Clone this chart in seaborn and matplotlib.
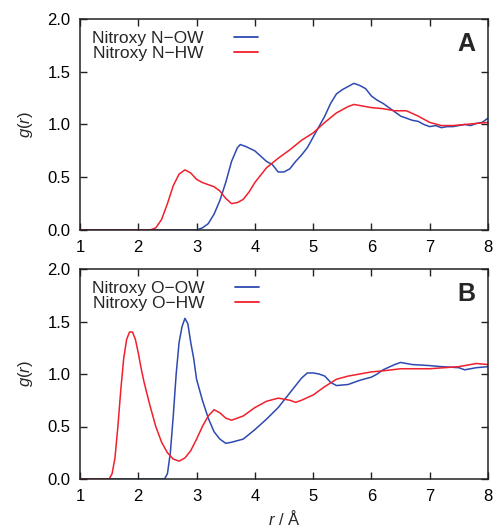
import matplotlib
matplotlib.use("Agg")
import matplotlib.pyplot as plt
import seaborn as sns
import pandas as pd

# ---- Panel A data ----
a_now_r = [1.0, 2.9, 3.0, 3.1, 3.2, 3.3, 3.4, 3.5, 3.6, 3.7, 3.75, 3.85, 4.0, 4.1, 4.2, 4.3, 4.4, 4.5,
           4.6, 4.7, 4.8, 4.9, 5.0, 5.1, 5.2, 5.3, 5.4, 5.5, 5.6, 5.7, 5.8, 5.9, 6.0, 6.1, 6.2, 6.3,
           6.4, 6.5, 6.6, 6.7, 6.8, 6.9, 7.0, 7.1, 7.2, 7.3, 7.4, 7.5, 7.6, 7.7, 7.8, 7.9, 8.0]
a_now_g = [0.0, 0.0, 0.0, 0.02, 0.06, 0.15, 0.28, 0.45, 0.65, 0.78, 0.81, 0.79, 0.75, 0.70, 0.65, 0.62, 0.55, 0.55,
           0.58, 0.65, 0.71, 0.78, 0.88, 0.98, 1.08, 1.20, 1.29, 1.33, 1.36, 1.39, 1.37, 1.34, 1.27, 1.23, 1.20, 1.16,
           1.12, 1.08, 1.06, 1.04, 1.03, 1.00, 0.98, 0.99, 0.97, 0.98, 0.98, 0.99, 1.00, 0.99, 1.01, 1.02, 1.06]

a_nhw_r = [1.0, 2.2, 2.3, 2.4, 2.5, 2.6, 2.7, 2.8, 2.9, 3.0, 3.1, 3.2, 3.3, 3.4, 3.5, 3.6, 3.7, 3.8,
           3.9, 4.0, 4.1, 4.2, 4.4, 4.6, 4.8, 5.0, 5.2, 5.4, 5.6, 5.7, 5.8, 6.0, 6.2, 6.4, 6.6,
           6.8, 7.0, 7.2, 7.4, 7.6, 7.8, 8.0]
a_nhw_g = [0.0, 0.0, 0.02, 0.10, 0.25, 0.42, 0.53, 0.57, 0.54, 0.48, 0.45, 0.43, 0.41, 0.37, 0.30, 0.25, 0.26, 0.29,
           0.36, 0.45, 0.52, 0.59, 0.68, 0.76, 0.85, 0.92, 1.02, 1.11, 1.17, 1.19, 1.18, 1.16, 1.15, 1.13, 1.13,
           1.08, 1.02, 0.99, 0.99, 1.00, 1.01, 1.02]

# ---- Panel B data ----
b_oow_r = [1.0, 2.45, 2.5, 2.55, 2.6, 2.65, 2.7, 2.75, 2.8, 2.85, 2.9, 2.95, 3.0, 3.1, 3.2, 3.3, 3.4, 3.5,
           3.6, 3.8, 4.0, 4.2, 4.4, 4.6, 4.8, 4.9, 5.0, 5.1, 5.2, 5.3, 5.4, 5.6, 5.8, 6.0, 6.1, 6.2,
           6.4, 6.5, 6.7, 7.0, 7.2, 7.5, 7.6, 7.8, 8.0]
b_oow_g = [0.0, 0.0, 0.05, 0.25, 0.60, 1.00, 1.30, 1.45, 1.53, 1.48, 1.30, 1.15, 0.95, 0.75, 0.58, 0.45, 0.38, 0.34,
           0.35, 0.38, 0.47, 0.57, 0.68, 0.82, 0.96, 1.01, 1.01, 1.00, 0.98, 0.92, 0.89, 0.90, 0.94, 0.97, 1.00, 1.04,
           1.09, 1.11, 1.09, 1.08, 1.07, 1.06, 1.04, 1.06, 1.07]

b_ohw_r = [1.0, 1.5, 1.55, 1.6, 1.65, 1.7, 1.75, 1.8, 1.85, 1.9, 1.95, 2.0, 2.05, 2.1, 2.2, 2.3, 2.4, 2.5,
           2.6, 2.7, 2.8, 2.9, 3.0, 3.1, 3.2, 3.3, 3.4, 3.5, 3.6, 3.8, 4.0, 4.2, 4.4, 4.6, 4.7,
           4.8, 5.0, 5.2, 5.4, 5.6, 5.8, 6.0, 6.2, 6.5, 7.0, 7.5, 7.8, 8.0]
b_ohw_g = [0.0, 0.0, 0.05, 0.20, 0.50, 0.85, 1.15, 1.33, 1.40, 1.40, 1.33, 1.20, 1.05, 0.92, 0.70, 0.50, 0.35, 0.25,
           0.19, 0.17, 0.20, 0.27, 0.38, 0.50, 0.60, 0.66, 0.63, 0.58, 0.56, 0.60, 0.68, 0.74, 0.77, 0.75, 0.73,
           0.75, 0.80, 0.88, 0.95, 0.98, 1.00, 1.02, 1.03, 1.05, 1.05, 1.07, 1.10, 1.09]

labels_a = ["Nitroxy N\u2212OW", "Nitroxy N\u2212HW"]
labels_b = ["Nitroxy O\u2212OW", "Nitroxy O\u2212HW"]
panel_tags = ["A", "B"]
x_ticks = [1, 2, 3, 4, 5, 6, 7, 8]
y_ticks = [0.0, 0.5, 1.0, 1.5, 2.0]

BLUE = "#2d4ab0"
RED = "#f0202c"

sns.set_theme(style="ticks")
plt.rcParams["font.family"] = ["Liberation Sans", "DejaVu Sans"]
plt.rcParams["mathtext.fontset"] = "custom"
plt.rcParams["mathtext.it"] = "Liberation Sans:italic"
plt.rcParams["mathtext.rm"] = "Liberation Sans"

fig = plt.figure(figsize=(4.95, 5.29), dpi=100)
W, H = 495, 529
axA = fig.add_axes([80 / W, 1 - 230 / H, 408 / W, 211 / H])
axB = fig.add_axes([80 / W, 1 - 479 / H, 408 / W, 210 / H])

panels = [
    (axA, [(a_now_r, a_now_g), (a_nhw_r, a_nhw_g)], labels_a, panel_tags[0]),
    (axB, [(b_oow_r, b_oow_g), (b_ohw_r, b_ohw_g)], labels_b, panel_tags[1]),
]

for ax, series, labels, tag in panels:
    frames = []
    for (r, g), lab in zip(series, labels):
        frames.append(pd.DataFrame({"r": r, "g": g, "series": lab}))
    df = pd.concat(frames, ignore_index=True)
    sns.lineplot(data=df, x="r", y="g", hue="series", palette=[BLUE, RED],
                 ax=ax, linewidth=1.1, sort=False, estimator=None)
    ax.set_xlim(1, 8)
    ax.set_ylim(0, 2)
    ax.set_xticks(x_ticks)
    ax.set_yticks(y_ticks)
    ax.set_yticklabels([f"{v:.1f}" for v in y_ticks])
    ax.tick_params(direction="in", length=5, width=1.0, top=True, right=True,
                   labelsize=12, pad=7, colors="#222222", labelcolor="black")
    for s in ax.spines.values():
        s.set_linewidth(1.1)
        s.set_color("#222222")
    ax.set_ylabel("$g$($r$)", fontsize=12, labelpad=9)
    ax.set_xlabel("")
    leg = ax.legend(loc="upper left", frameon=False, markerfirst=False,
                    handlelength=1.4, handletextpad=1.75, fontsize=12.5,
                    labelspacing=0.0, borderaxespad=0.3, bbox_to_anchor=(0.0, 1.0))
    for line in leg.get_lines():
        line.set_linewidth(1.3)
    ax.text(0.946, 0.88, tag, transform=ax.transAxes, fontsize=18,
            fontweight="bold", ha="center", va="center")

axB.set_xlabel("$r$ / \u00c5", fontsize=12, labelpad=4)

fig.savefig("out.png", dpi=100)
